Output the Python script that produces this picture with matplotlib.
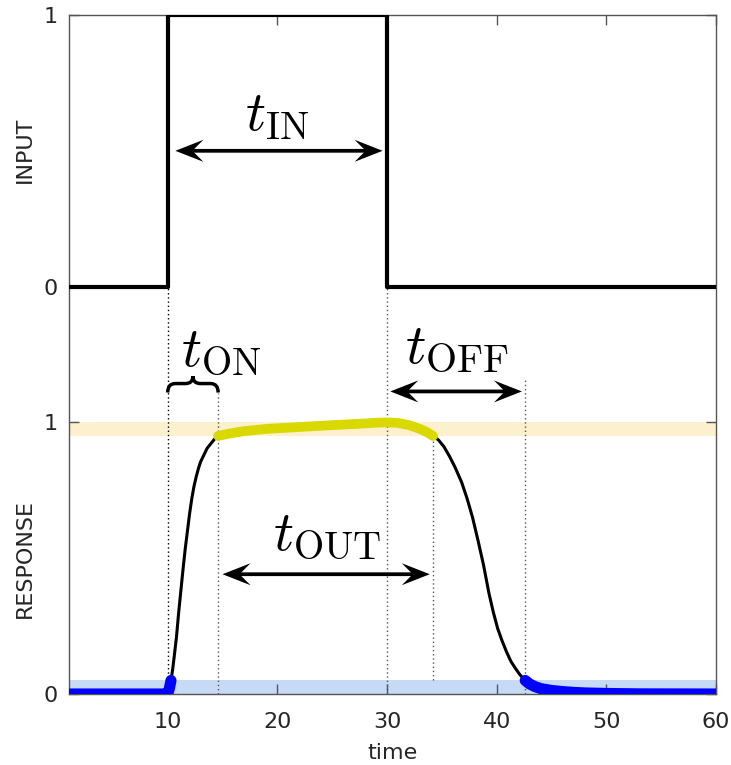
import numpy as np
import matplotlib
matplotlib.use("Agg")
import matplotlib.pyplot as plt
from matplotlib.patches import FancyArrowPatch, PathPatch, Polygon
from matplotlib.path import Path
from matplotlib.transforms import ScaledTranslation

plt.rcParams['mathtext.fontset'] = 'cm'
plt.rcParams['font.family'] = ['DejaVu Sans']

# input step (time, level)
input_t = [1, 10, 10, 30, 30, 60]
input_v = [0, 0, 1, 1, 0, 0]
input_offset = 1.5

# response
resp_t = [1, 5, 10, 10.15, 10.3, 10.45, 10.6, 10.8, 11.0, 11.2, 11.4, 11.6, 11.8, 12.0,
          12.2, 12.4, 12.6, 12.8, 13.0, 13.3, 13.6, 14.0, 14.3,
          14.6, 15.5, 17, 19, 22, 25, 28, 29, 30, 31, 32, 33, 33.6, 34.2,
          34.7, 35.2, 35.7, 36.2, 36.8, 37.3, 37.8, 38.3, 38.8, 39.3, 39.7, 40.1, 40.5,
          40.9, 41.3, 41.7, 42.1,
          42.6, 43, 43.5, 44, 45, 46, 47, 48, 50, 53, 60]
resp_v = [0, 0, 0, 0.02, 0.05, 0.09, 0.14, 0.21, 0.30, 0.38, 0.46, 0.535, 0.60, 0.665,
          0.72, 0.765, 0.80, 0.83, 0.855, 0.88, 0.905, 0.925, 0.94,
          0.95, 0.958, 0.968, 0.976, 0.983, 0.99, 0.996, 0.999, 1.0, 0.998, 0.99, 0.976, 0.965, 0.95,
          0.935, 0.91, 0.875, 0.835, 0.78, 0.72, 0.65, 0.565, 0.475, 0.37, 0.30, 0.24, 0.195,
          0.155, 0.12, 0.095, 0.072,
          0.05, 0.037, 0.027, 0.02, 0.013, 0.009, 0.006, 0.004, 0.002, 0.0005, 0]

low_thr = 0.05
high_thr = 0.95

# timing marks
t_in = (10, 30)
t_on = (10, 14.6)
t_off = (30, 42.6)
t_out = (14.6, 34.2)

x_ticks = [10, 20, 30, 40, 50, 60]
y_ticks = [0, 1, 1.5, 2.5]
y_ticklabels = ['0', '1', '0', '1']

fig = plt.figure(figsize=(7.31, 7.65), dpi=100)
ax = fig.add_axes([69 / 731, 1 - 694 / 765, (716 - 69) / 731, (694 - 15) / 765])

ax.axhspan(0, low_thr, color='#c6d9f5', lw=0, zorder=0)
ax.axhspan(high_thr, 1.0, color='#fdf0cc', lw=0, zorder=0)

ax.plot(input_t, np.array(input_v) + input_offset, color='black', lw=3, zorder=3)

t = np.array(resp_t)
v = np.array(resp_v)
ax.plot(t, v, color='black', lw=2.2, zorder=2)
ax.plot(t, np.ma.masked_where(v > low_thr + 1e-9, v), color='#0000ff', lw=8,
        solid_capstyle='round', solid_joinstyle='round', zorder=3)
ax.plot(t, np.ma.masked_where(v < high_thr - 1e-9, v), color='#d9d900', lw=7,
        solid_capstyle='round', solid_joinstyle='round', zorder=3)

# dotted guides
dot = dict(ls=(0, (1, 2)), lw=1, zorder=1)
ax.plot([t_in[0], t_in[0]], [0, input_offset], color='black', **dot)
ax.plot([t_in[1], t_in[1]], [0, input_offset], color='#555555', **dot)
ax.plot([t_on[1], t_on[1]], [0, 1.11], color='#555555', **dot)
ax.plot([t_out[1], t_out[1]], [low_thr, high_thr], color='#555555', **dot)
ax.plot([t_off[1], t_off[1]], [0, 1.16], color='#555555', **dot)


def head(x, y, direction):
    # swept-back arrow head, sizes in inches
    L, w, notch = 0.28, 0.11, 0.17
    d = direction
    verts = [(0, 0), (d * L, w), (d * notch, 0), (d * L, -w)]
    tr = fig.dpi_scale_trans + ScaledTranslation(x, y, ax.transData)
    ax.add_patch(Polygon(verts, closed=True, transform=tr, color='black', lw=0, zorder=4))


def arrow(x0, x1, y):
    a = FancyArrowPatch((x0, y), (x1, y), arrowstyle='-', shrinkA=9, shrinkB=9,
                        lw=2.7, color='black', zorder=4)
    ax.add_patch(a)
    head(x0, y, 1)
    head(x1, y, -1)


def brace(x0, x1, yb, h):
    w = x1 - x0
    xm = (x0 + x1) / 2
    ym = yb + h * 0.55
    verts = [(x0, yb), (x0, ym), (x0 + 0.15 * w, ym), (xm - 0.15 * w, ym),
             (xm, ym), (xm, yb + h), (xm, ym), (xm + 0.15 * w, ym),
             (x1 - 0.15 * w, ym), (x1, ym), (x1, yb)]
    codes = [Path.MOVETO, Path.CURVE3, Path.CURVE3, Path.LINETO,
             Path.CURVE3, Path.CURVE3, Path.CURVE3, Path.CURVE3,
             Path.LINETO, Path.CURVE3, Path.CURVE3]
    ax.add_patch(PathPatch(Path(verts, codes), fill=False, lw=2.5, color='black', zorder=4))


fs_math = 40
arrow(t_in[0] + 0.7, t_in[1] - 0.4, 2.0)
ax.text(20, 2.075, r'$t_{\mathrm{IN}}$', fontsize=fs_math, ha='center', va='baseline')

brace(t_on[0], t_on[1], 1.11, 0.06)
ax.text(14.9, 1.21, r'$t_{\mathrm{ON}}$', fontsize=fs_math, ha='center', va='baseline')

arrow(t_off[0] + 0.3, t_off[1] - 0.3, 1.114)
ax.text(36.4, 1.22, r'$t_{\mathrm{OFF}}$', fontsize=41, ha='center', va='baseline')

arrow(t_out[0] + 0.4, t_out[1] - 0.3, 0.441)
ax.text(24.5, 0.53, r'$t_{\mathrm{OUT}}$', fontsize=fs_math, ha='center', va='baseline')

ax.set_xlim(1, 60)
ax.set_ylim(0, 2.5)
ax.set_xticks(x_ticks)
ax.set_yticks(y_ticks)
ax.set_yticklabels(y_ticklabels)
ax.tick_params(direction='in', length=7, width=1, color='#555555', labelcolor='#262626',
               labelsize=16, top=True, right=True)
ax.tick_params(axis='x', pad=13)
ax.tick_params(axis='y', pad=8)
for s in ax.spines.values():
    s.set_color('#555555')
    s.set_linewidth(1)
ax.set_xlabel('time', fontsize=16, color='#262626', labelpad=8)

fig.text(25 / 731, 1 - 150 / 765, 'INPUT', rotation=90, ha='center', va='center',
         fontsize=16, color='#262626')
fig.text(25 / 731, 1 - 558 / 765, 'RESPONSE', rotation=90, ha='center', va='center',
         fontsize=16, color='#262626')

fig.savefig('out.png', dpi=100)
